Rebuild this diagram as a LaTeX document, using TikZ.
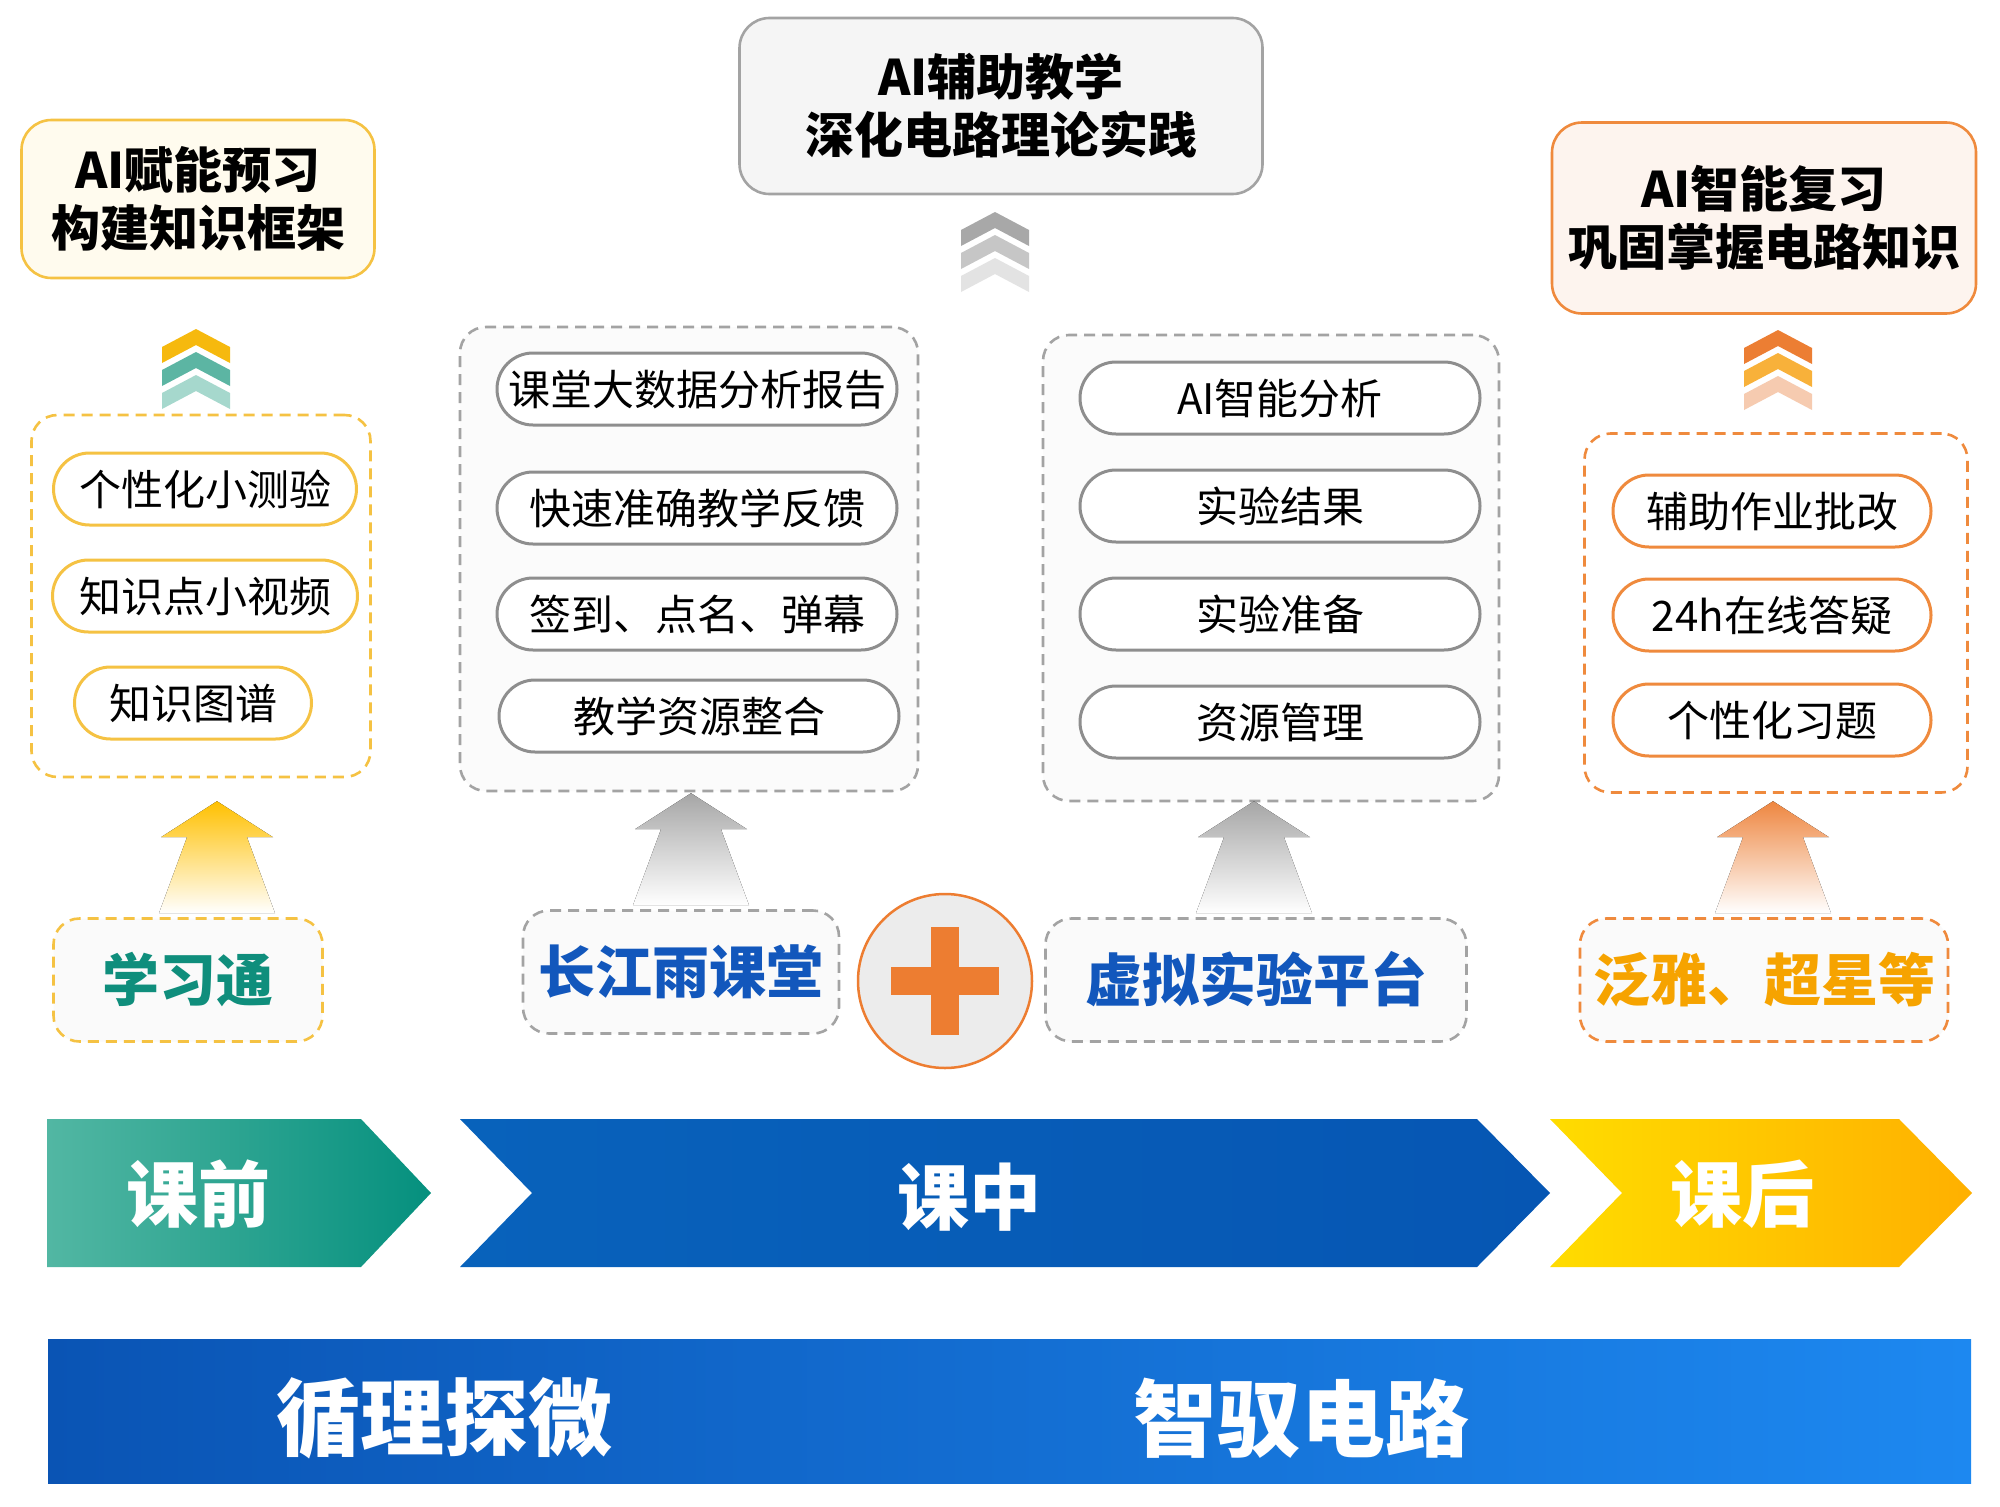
\documentclass[tikz,border=0pt]{standalone}
\usepackage{fontspec}
\newfontfamily\cjk{Noto Sans CJK SC}
\usetikzlibrary{positioning,calc}
\definecolor{goldline}{HTML}{F5C243}
\definecolor{goldfill}{HTML}{FFFBEE}
\definecolor{grayline}{HTML}{A3A3A3}
\definecolor{grayfill}{HTML}{F5F5F5}
\definecolor{pillgray}{HTML}{8E8E8E}
\definecolor{orangeline}{HTML}{EF8A3D}
\definecolor{peachfill}{HTML}{FDF4EE}
\definecolor{plusorange}{HTML}{ED7D31}
\definecolor{plusgray}{HTML}{ECECEC}
\definecolor{tealtext}{HTML}{0F8E7C}
\definecolor{bluetext}{HTML}{1257BC}
\definecolor{ambertext}{HTML}{F6A300}
\definecolor{tealA}{HTML}{52B7A3}
\definecolor{tealB}{HTML}{05907E}
\definecolor{blueA}{HTML}{0862BB}
\definecolor{blueB}{HTML}{0656B3}
\definecolor{sunA}{HTML}{FFDC00}
\definecolor{sunB}{HTML}{FFB000}
\definecolor{barA}{HTML}{0A54B4}
\definecolor{barB}{HTML}{1D88F0}
\definecolor{arrowgold}{HTML}{FFC000}
\definecolor{arrowgray}{HTML}{A6A6A6}
\definecolor{arroworange}{HTML}{EE8640}
\definecolor{chevgold}{HTML}{F6B90E}
\definecolor{chevteal}{HTML}{5CB5A3}
\definecolor{chevmint}{HTML}{A6D8CD}
\definecolor{chevgrayA}{HTML}{A8A8A8}
\definecolor{chevgrayB}{HTML}{C6C6C6}
\definecolor{chevgrayC}{HTML}{E3E3E3}
\definecolor{chevorA}{HTML}{EC7E33}
\definecolor{chevorB}{HTML}{F8B13A}
\definecolor{chevorC}{HTML}{F6CBB0}

\newcommand{\stackchev}[5]{%
  \foreach \col [count=\i from 0] in {#3,#4,#5}
    \fill[\col] (#1,#2+\i*23) -- ++(34,18) -- ++(0,16) -- ++(-34,-18) -- ++(-34,18) -- ++(0,-16) -- cycle;}
\newcommand{\risearrow}[4]{%
  \fill[top color=#4, bottom color=white] let \p1=(#3,0 |- #2.south), \p2=(#1.north) in
    (\x1,\y2+116pt) -- (\x1+56pt,\y2+80pt) -- (\x1+30pt,\y2+80pt) -- (\x1+58pt,\y2+4pt)
    -- (\x1-58pt,\y2+4pt) -- (\x1-30pt,\y2+80pt) -- (\x1-56pt,\y2+80pt) -- cycle;}

\begin{document}
\begin{tikzpicture}[x=1pt, y=-1pt,
  headbox/.style={draw, line width=2.6pt, rounded corners=30pt, align=center, inner sep=0pt,
    font=\cjk\bfseries\fontsize{49}{58}\selectfont},
  itembox/.style={draw, line width=3pt, fill=white, rounded corners=36pt, minimum height=72pt,
    inner sep=0pt, text height=37pt, text depth=5pt, font=\cjk\fontsize{42}{42}\selectfont},
  groupbox/.style={draw, line width=2.6pt, dash pattern=on 11pt off 7pt, rounded corners=26pt},
  toolbox/.style={groupbox, fill=black!2, minimum height=123pt, text height=50pt, text depth=7pt,
    font=\cjk\bfseries\fontsize{57}{57}\selectfont},
  stagetext/.style={text=white, font=\cjk\bfseries\fontsize{72}{72}\selectfont},
  mottotext/.style={text=white, font=\cjk\bfseries\fontsize{84}{84}\selectfont}]
\fill[white] (0,0) rectangle (2000,1507);
\useasboundingbox (0,0) rectangle (2000,1507);

\node[headbox, fill=goldfill, draw=goldline, minimum width=353pt, minimum height=158pt] (t1) at (198,199) {AI赋能预习\\构建知识框架};
\node[headbox, fill=grayfill, draw=grayline, minimum width=523pt, minimum height=176pt] (t2) at (1001,106) {AI辅助教学\\深化电路理论实践};
\node[headbox, fill=peachfill, draw=orangeline, minimum width=424pt, minimum height=191pt] (t3) at (1764,218) {AI智能复习\\巩固掌握电路知识};

\stackchev{196}{329}{chevgold}{chevteal}{chevmint}
\stackchev{995}{212}{chevgrayA}{chevgrayB}{chevgrayC}
\stackchev{1778}{330}{chevorA}{chevorB}{chevorC}

\node[groupbox, draw=goldline, fill=white, minimum width=339pt, minimum height=362pt] (g1) at (201,596) {};
\node[groupbox, draw=grayline, fill=black!1.5, minimum width=458pt, minimum height=464pt] (g2) at (689,559) {};
\node[groupbox, draw=grayline, fill=black!1.5, minimum width=456pt, minimum height=466pt] (g3) at (1271,568) {};
\node[groupbox, draw=orangeline, fill=white, minimum width=383pt, minimum height=359pt] (g4) at (1776,613) {};

\node[itembox, draw=goldline, minimum width=303pt] (a1) at (205,489) {个性化小测验};
\node[itembox, draw=goldline, minimum width=305pt, below=32pt of a1] (a2) {知识点小视频};
\node[itembox, draw=goldline, minimum width=237pt, below=32pt of a2, xshift=-12pt] (a3) {知识图谱};

\node[itembox, draw=pillgray, minimum width=400pt] (b1) at (697,389) {课堂大数据分析报告};
\node[itembox, draw=pillgray, minimum width=400pt] (b2) at (697,508) {快速准确教学反馈};
\node[itembox, draw=pillgray, minimum width=400pt] (b3) at (697,614) {签到、点名、弹幕};
\node[itembox, draw=pillgray, minimum width=400pt] (b4) at (699,716) {教学资源整合};

\node[itembox, draw=pillgray, minimum width=400pt] (c1) at (1280,398) {AI智能分析};
\node[itembox, draw=pillgray, minimum width=400pt, below=33pt of c1] (c2) {实验结果};
\node[itembox, draw=pillgray, minimum width=400pt, below=33pt of c2] (c3) {实验准备};
\node[itembox, draw=pillgray, minimum width=400pt, below=33pt of c3] (c4) {资源管理};

\node[itembox, draw=orangeline, minimum width=318pt] (d1) at (1772,511) {辅助作业批改};
\node[itembox, draw=orangeline, minimum width=318pt, below=29pt of d1] (d2) {24h在线答疑};
\node[itembox, draw=orangeline, minimum width=318pt, below=30pt of d2] (d3) {个性化习题};

\node[toolbox, draw=goldline, text=tealtext, minimum width=269pt] (x1) at (188,980) {学习通};
\node[toolbox, draw=grayline, text=bluetext, minimum width=316pt] (x2) at (681,972) {长江雨课堂};
\node[toolbox, draw=grayline, text=bluetext, minimum width=421pt] (x3) at (1256,980) {虚拟实验平台};
\node[toolbox, draw=orangeline, text=ambertext, minimum width=368pt] (x4) at (1764,980) {泛雅、超星等};

\node[circle, draw=plusorange, line width=2.5pt, fill=plusgray, minimum size=174pt] (plus) at (945,981) {};
\fill[plusorange] ($(plus)+(-54,-14)$) rectangle ($(plus)+(54,14)$);
\fill[plusorange] ($(plus)+(-14,-54)$) rectangle ($(plus)+(14,54)$);

\risearrow{x1}{g1}{217}{arrowgold}
\risearrow{x2}{g2}{691}{arrowgray}
\risearrow{x3}{g3}{1254}{arrowgray}
\risearrow{x4}{g4}{1773}{arroworange}

\shade[left color=tealA, right color=tealB] (47,1119) -- (361,1119) -- (431,1193) -- (361,1267) -- (47,1267) -- cycle;
\shade[left color=blueA, right color=blueB] (460,1119) -- (1477,1119) -- (1550,1193) -- (1477,1267) -- (460,1267) -- (532,1193) -- cycle;
\shade[left color=sunA, right color=sunB] (1550,1119) -- (1899,1119) -- (1972,1193) -- (1899,1267) -- (1550,1267) -- (1622,1193) -- cycle;
\node[stagetext] (s1) at (198,1194) {课前};
\node[stagetext] (s2) at (969,1197) {课中};
\node[stagetext] (s3) at (1742,1194) {课后};

\shade[left color=barA, right color=barB] (48,1339) rectangle (1971,1483);
\node[mottotext] (m1) at (444,1418) {循理探微};
\node[mottotext] (m2) at (1301,1418) {智驭电路};
\end{tikzpicture}
\end{document}
